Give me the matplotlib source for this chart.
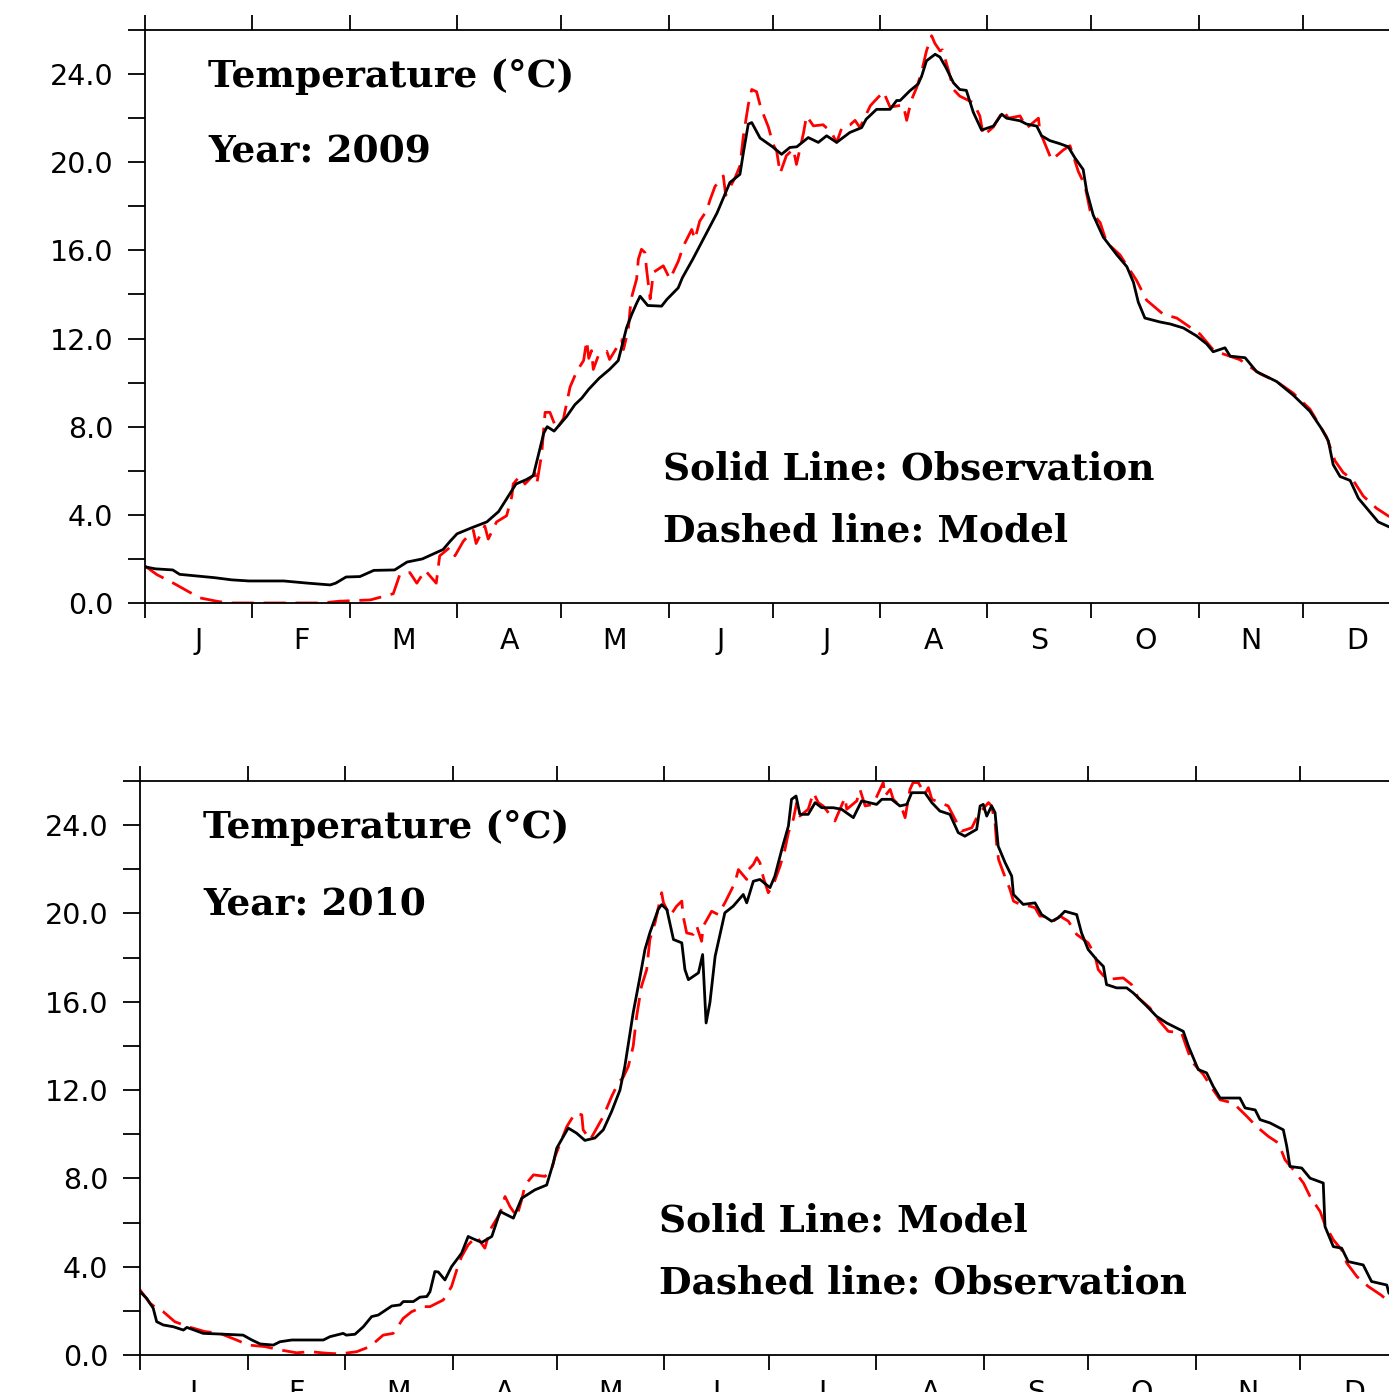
import matplotlib
matplotlib.use("Agg")
import matplotlib.pyplot as plt
import numpy as np

# ---------------- data (day of year, temperature degC) ----------------
month_labels = ["J", "F", "M", "A", "M", "J", "J", "A", "S", "O", "N", "D"]
month_starts = [0, 31, 59, 90, 120, 151, 181, 212, 243, 273, 304, 334, 365]

# 2009 observation (solid black)
obs09_day = [0, 3, 8, 10, 20, 25, 30, 40, 47, 53.4, 55, 58, 62, 66, 72, 75.6, 80, 86, 88, 90,
             94, 98.6, 102, 107, 110, 112, 115, 116, 118, 121.6, 124, 126, 128, 131, 134, 136.5,
             138.9, 140.4, 141.8, 142.8, 145, 149, 150.5, 153.8, 155, 158, 162, 165, 168.7,
             171.6, 172.6, 174, 175, 177.4, 181, 183.6, 186, 188, 191.3, 194.2, 196.6, 199.5,
             203.3, 206.7, 208, 211, 214.9, 216.8, 217.8, 220.6, 223, 224, 225.4, 227.9, 229.3,
             231, 233.2, 235, 236.9, 238.9, 241.3, 244.7, 247.1, 248.5, 252.4, 254.3, 257.2,
             258.6, 261, 263.9, 266.3, 268.2, 270.6, 271.6, 273.5, 276.4, 280.3, 283.2, 285.1,
             286.5, 288.4, 292.8, 295.7, 299.5, 303.3, 306.2, 308.1, 311.5, 313, 317.3, 320.6,
             326.4, 331.2, 336, 339.4, 341.3, 342.7, 344.7, 347.6, 350, 353.3, 355.7, 358.9, 365]
obs09_val = [1.64, 1.55, 1.5, 1.3, 1.15, 1.05, 1.0, 1.0, 0.9, 0.82, 0.9, 1.18, 1.2, 1.48, 1.5,
             1.86, 2.0, 2.43, 2.8, 3.14, 3.4, 3.68, 4.15, 5.4, 5.6, 5.78, 7.7, 8.0, 7.8, 8.46,
             9.0, 9.3, 9.7, 10.2, 10.6, 11.0, 12.49, 13.1, 13.6, 13.92, 13.5, 13.47, 13.77, 14.3,
             14.76, 15.6, 16.8, 17.7, 19.08, 19.45, 20.44, 21.73, 21.8, 21.1, 20.7, 20.36, 20.67,
             20.7, 21.12, 20.9, 21.2, 20.9, 21.35, 21.57, 21.95, 22.4, 22.4, 22.8, 22.8, 23.24,
             23.55, 23.9, 24.6, 24.9, 24.77, 24.3, 23.6, 23.3, 23.26, 22.27, 21.46, 21.64, 22.18,
             22.0, 21.88, 21.73, 21.64, 21.2, 20.98, 20.84, 20.7, 20.2, 19.67, 18.7, 17.6, 16.6,
             15.8, 15.26, 14.55, 13.65, 12.93, 12.75, 12.66, 12.48, 12.12, 11.76, 11.4, 11.58,
             11.2, 11.13, 10.5, 10.05, 9.43, 8.7, 7.9, 7.36, 6.28, 5.74, 5.56, 4.75, 4.13, 3.68,
             3.45, 3.2]

# 2009 model (dashed red)
mod09_day = [0, 3.4, 8.2, 12.5, 15.9, 20.7, 24, 51, 56, 65, 71.6, 73.5, 76.4, 78.4, 80.8, 84,
             85, 88, 89.4, 91.8, 94.7, 95.5, 98, 99, 101.4, 104.3, 105.8, 106.2, 108.2, 109.6,
             112.5, 113, 114.4, 115.4, 116.8, 118.7, 120.7, 122.6, 124.5, 126.5, 127.4, 128,
             128.8, 129.3, 130.7, 133.2, 134, 136.5, 137.5, 138, 139.4, 139.9, 140.4, 141.8,
             142.3, 143.2, 144.2, 144.7, 145.7, 146.2, 146.6, 149.5, 151.4, 153.8, 155.3, 157.7,
             158.6, 160, 162, 163, 164.4, 166.8, 167.5, 170.2, 171.6, 172.6, 173.5, 174, 175,
             176.4, 177.4, 178.3, 179.8, 181.2, 182.2, 183.2, 185, 187, 187.9, 189.9, 190.8,
             192.8, 195.6, 198, 199.5, 201, 203.4, 204.8, 206.2, 209.2, 210, 213, 214.9, 218.7,
             219.7, 221, 222.6, 224, 225.4, 226.9, 227.8, 229.3, 230, 231.7, 233.2, 235, 238.9,
             240.8, 241.8, 244.7, 247.6, 249, 252.4, 254.3, 257.7, 258.1, 261.5, 264.9, 266.8,
             269.2, 271.1, 272.6, 275.5, 277.4, 281.2, 286, 288.9, 293.7, 297.6, 304.3, 308.1,
             311, 315.8, 321.6, 326.4, 331.2, 336, 340.8, 343.2, 345.6, 348.5, 351.4, 355.2,
             358.6, 365]
mod09_val = [1.68, 1.29, 0.9, 0.52, 0.23, 0.08, 0.0, 0.0, 0.08, 0.14, 0.42, 1.29, 1.38, 0.9,
             1.48, 0.9, 2.14, 2.53, 2.14, 2.8, 3.3, 2.7, 3.5, 2.9, 3.68, 3.96, 4.83, 5.4, 5.78,
             5.4, 5.88, 5.4, 6.74, 8.65, 8.65, 7.89, 8.37, 9.8, 10.5, 11.0, 11.9, 11.1, 11.45,
             10.6, 11.2, 11.42, 11.05, 11.7, 11.95, 11.5, 12.4, 13.3, 13.9, 14.7, 15.6, 16.05,
             15.9, 15.1, 13.8, 14.4, 15.0, 15.3, 14.7, 15.5, 16.2, 16.95, 16.5, 17.33, 17.8,
             18.3, 18.9, 19.38, 18.5, 19.3, 19.83, 21.2, 22.1, 22.6, 23.3, 23.2, 22.6, 22.2,
             21.6, 20.8, 20.5, 19.5, 20.3, 20.6, 19.9, 21.3, 22.1, 21.65, 21.7, 21.35, 20.9,
             21.57, 21.7, 21.9, 21.57, 22.56, 22.7, 23.2, 22.5, 22.6, 21.9, 22.8, 23.4, 24.1,
             25.05, 25.74, 25.4, 25.05, 25.1, 24.2, 23.3, 23.0, 22.7, 22.1, 21.2, 21.6, 22.36,
             22.0, 22.1, 21.55, 22.0, 21.4, 20.1, 20.56, 20.75, 19.58, 18.95, 17.8, 17.26,
             16.35, 15.8, 14.64, 13.74, 13.1, 12.93, 12.2, 11.49, 11.3, 11.04, 10.4, 10.05,
             9.52, 8.8, 7.54, 6.46, 5.92, 5.56, 4.85, 4.3, 3.95, 3.5]

# 2010 model (solid black)
mod10_day = [0, 1.9, 3.8, 4.8, 6.7, 9.6, 12.5, 13.5, 18.2, 23, 29.7, 32.2, 34.6, 38.4, 40.3,
             43.7, 52.8, 54.7, 58.5, 59.4, 61.9, 64.3, 66.7, 68.6, 72.5, 74.9, 75.8, 78.7, 80.6,
             82.6, 83.5, 84.9, 85.9, 87.8, 89.7, 92.6, 94.5, 95.4, 98.4, 101.3, 103.7, 107.5,
             109.9, 113.7, 117.1, 119, 120, 121.9, 123.3, 125.7, 128.1, 131, 133.4, 135.8, 138.2,
             139.6, 142, 144, 145.4, 146.8, 149.2, 150.2, 151.7, 153.6, 156, 156.9, 157.9, 160.8,
             162, 163, 164.1, 165.6, 168.4, 170.8, 173.7, 174.7, 176.6, 178.5, 181.4, 182.8,
             184.8, 186.7, 187.6, 188.9, 190, 192.4, 194.4, 196.3, 199.6, 202, 205.4, 207.8,
             212.1, 213.6, 216.4, 218.8, 220.8, 222.2, 226, 228, 230.3, 233.2, 235.6, 237.5,
             240.9, 241.9, 242.8, 243.8, 245.2, 246.2, 247.1, 249.1, 251, 251.5, 254.3, 257.7,
             259.6, 262.5, 264.4, 266.3, 269.7, 271.1, 273, 275.5, 277.4, 278.3, 281.2, 284.1,
             286, 289.9, 292.7, 295.6, 300.4, 301.9, 304.7, 307.1, 309, 311, 316.7, 318.2,
             321.1, 322.5, 325.4, 329.2, 330.2, 331.1, 334.5, 336.9, 340.7, 341.2, 343.6, 346,
             347.9, 352.2, 354.6, 359, 359.6, 365]
mod10_val = [2.87, 2.57, 2.12, 1.51, 1.36, 1.28, 1.13, 1.25, 0.98, 0.95, 0.9, 0.68, 0.5, 0.45,
             0.6, 0.68, 0.68, 0.83, 0.98, 0.9, 0.94, 1.28, 1.74, 1.81, 2.22, 2.27, 2.42, 2.42,
             2.62, 2.65, 2.87, 3.78, 3.76, 3.4, 4.0, 4.61, 5.37, 5.3, 5.1, 5.37, 6.5, 6.2, 7.1,
             7.48, 7.7, 8.7, 9.37, 9.9, 10.28, 10.05, 9.72, 9.83, 10.2, 11.03, 12.0, 13.07, 15.5,
             17.16, 18.37, 19.12, 20.18, 20.4, 20.18, 18.82, 18.67, 17.46, 17.0, 17.31, 18.14,
             15.04, 15.96, 18.06, 20.03, 20.33, 20.86, 20.48, 21.46, 21.54, 21.17, 21.69, 22.9,
             23.96, 25.17, 25.32, 24.49, 24.49, 25.02, 24.79, 24.79, 24.72, 24.34, 25.1, 24.94,
             25.17, 25.17, 24.87, 24.94, 25.47, 25.47, 25.02, 24.64, 24.49, 23.66, 23.5, 23.81,
             24.87, 24.94, 24.41, 24.87, 24.57, 23.05, 22.3, 21.69, 20.86, 20.41, 20.48, 19.95,
             19.65, 19.8, 20.1, 19.95, 19.12, 18.37, 17.9, 17.6, 16.78, 16.63, 16.63, 16.4, 15.8,
             15.34, 15.04, 14.66, 13.98, 12.93, 12.78, 12.17, 11.64, 11.64, 11.19, 11.1, 10.66,
             10.51, 10.2, 9.45, 8.54, 8.47, 8.01, 7.79, 5.82, 4.91, 4.84, 4.23, 4.08, 3.33, 3.17,
             2.8, 2.5]

# 2010 observation (dashed red)
obs10_day = [0, 2.9, 5, 6.7, 10, 13.9, 18.7, 23, 27.8, 31.2, 36, 40.3, 45.1, 49, 53.8, 57.6,
             62.4, 66.2, 70, 72.9, 75.8, 78.2, 81.6, 83.5, 87.3, 89.7, 91.2, 92.6, 94.5, 96.9,
             99.3, 100.8, 103.7, 105.1, 106.5, 108.5, 109.9, 110.9, 113.3, 116.6, 118.5, 119.5,
             121.4, 122.9, 125.3, 127.2, 127.6, 129.6, 131, 133.4, 134.8, 135.8, 137.7, 139.2,
             140.6, 142, 143, 144.4, 145.9, 146.8, 148.3, 150.2, 150.7, 152.6, 154.5, 156, 156.4,
             157.4, 159.3, 160.3, 161.7, 162.2, 164.6, 166.5, 168.4, 169.4, 171.3, 172.3, 174.7,
             175.2, 176.6, 177.6, 178.5, 179.5, 180.9, 182.4, 184.3, 185.7, 186.7, 188.1, 189.1,
             190, 192.4, 193.9, 195.3, 196.7, 200.1, 203, 203.5, 206.4, 207.3, 208.8, 211.1, 214,
             214.5, 216, 216.9, 219.3, 220.3, 221.7, 222.6, 224.1, 226, 227, 228, 230.3, 232.7,
             235.2, 236.6, 239.5, 241.4, 244.3, 245.2, 246.2, 246.7, 247.2, 248.6, 250.5, 251.5,
             253.4, 256.2, 257.7, 259.1, 260.1, 263, 264.9, 267.3, 269.7, 273, 274.9, 275.9,
             278.3, 283.1, 285.5, 287.4, 290.8, 293.2, 296.1, 299.9, 301.4, 302.8, 306.2, 308.6,
             311, 314.8, 318.7, 321.5, 324.9, 327.8, 329.7, 332.1, 335, 336.9, 339.8, 341.2,
             343.6, 346, 347.5, 350.4, 353.7, 357.3, 359.6, 365]
obs10_val = [2.95, 2.34, 2.1, 1.96, 1.51, 1.28, 1.06, 0.98, 0.68, 0.45, 0.38, 0.23, 0.1, 0.15,
             0.08, 0.05, 0.15, 0.38, 0.9, 0.98, 1.66, 1.96, 2.19, 2.19, 2.49, 3.1, 3.85, 4.46,
             4.99, 5.37, 4.84, 5.67, 6.43, 7.18, 6.73, 6.27, 7.03, 7.71, 8.16, 8.09, 8.39, 8.99,
             9.75, 10.35, 10.96, 10.88, 10.2, 9.75, 10.13, 10.81, 11.34, 11.71, 12.32, 12.6,
             13.07, 13.98, 15.34, 16.7, 17.46, 18.82, 19.58, 20.94, 20.5, 19.88, 20.33, 20.56,
             19.88, 19.12, 19.05, 19.43, 18.74, 19.43, 20.1, 19.95, 20.48, 20.79, 21.39, 21.99,
             21.54, 21.99, 22.22, 22.53, 22.3, 21.62, 20.94, 21.32, 22.15, 22.9, 23.66, 24.26,
             25.02, 24.41, 24.72, 25.47, 25.02, 24.87, 24.19, 25.25, 24.72, 25.1, 25.62, 24.87,
             24.94, 25.93, 25.32, 25.62, 25.17, 24.79, 24.34, 25.62, 25.93, 25.93, 25.4, 25.7,
             25.17, 25.02, 24.87, 24.11, 23.73, 23.88, 24.49, 25.02, 24.87, 24.11, 23.05, 22.45,
             21.85, 21.09, 20.56, 20.41, 20.33, 20.26, 19.88, 19.88, 19.65, 19.88, 19.65, 19.05,
             18.67, 18.14, 17.46, 17.01, 17.08, 16.78, 16.18, 15.72, 15.19, 14.66, 14.59, 13.91,
             13.3, 12.7, 12.1, 11.56, 11.41, 10.81, 10.35, 9.9, 9.6, 8.84, 8.39, 7.79, 7.18, 6.5,
             5.9, 5.22, 4.76, 4.16, 3.55, 3.1, 2.72, 2.42, 2.2]

year_titles = ["Year: 2009", "Year: 2010"]
legend_texts = [("Solid Line: Observation", "Dashed line: Model"),
                ("Solid Line: Model", "Dashed line: Observation")]

# ---------------- figure ----------------
W, H = 1389, 1392
fig = plt.figure(figsize=(W / 100, H / 100), dpi=100)

tick_font = dict(family="DejaVu Sans", size=20.5)
text_font = dict(family="DejaVu Serif", size=27, weight="bold")


def make_axes(left_px, right_px, top_px, bottom_px):
    return fig.add_axes([left_px / W, 1 - bottom_px / H,
                         (right_px - left_px) / W, (bottom_px - top_px) / H])


def style(ax):
    ax.set_xlim(0, 365)
    ax.set_ylim(0, 26)
    for s in ["left", "bottom", "top"]:
        ax.spines[s].set_linewidth(1.3)
    ax.spines["right"].set_visible(False)
    ax.set_xticks(month_starts[:-1])
    ax.set_xticklabels([])
    mids = [(month_starts[i] + month_starts[i + 1]) / 2 for i in range(12)]
    ax.set_xticks(mids, minor=True)
    ax.set_xticklabels(month_labels, minor=True, **tick_font)
    ax.tick_params(axis="x", which="major", direction="out", length=11, width=1.3,
                   top=True, bottom=True, labelbottom=False)
    ax.tick_params(axis="x", which="minor", length=0, pad=17, top=False)
    ax.set_yticks(np.arange(0, 25, 4))
    ax.set_yticklabels([f"{v:.1f}" for v in np.arange(0, 25, 4)], **tick_font)
    ax.set_yticks(np.arange(2, 27, 4), minor=True)
    ax.tick_params(axis="y", which="both", direction="out", length=12, width=1.3,
                   left=True, right=False, pad=11)


def annotate(ax, idx):
    ax.text(0.050, 0.900, "Temperature (°C)", transform=ax.transAxes, ha="left",
            va="baseline", **text_font)
    ax.text(0.050, 0.768, year_titles[idx], transform=ax.transAxes, ha="left",
            va="baseline", **text_font)
    ax.text(0.4095, 0.2155, legend_texts[idx][0], transform=ax.transAxes, ha="left",
            va="baseline", **text_font)
    ax.text(0.4095, 0.107, legend_texts[idx][1], transform=ax.transAxes, ha="left",
            va="baseline", **text_font)


ax1 = make_axes(145, 145 + 365 * 3.467, 30, 603)
ax1.plot(mod09_day, mod09_val, color="red", lw=2.0, dashes=(8, 3.5), clip_on=True)
ax1.plot(obs09_day, obs09_val, color="black", lw=2.0)
style(ax1)
annotate(ax1, 0)

ax2 = make_axes(140, 140 + 365 * 3.473, 781, 1355)
ax2.plot(obs10_day, obs10_val, color="red", lw=2.0, dashes=(8, 3.5))
ax2.plot(mod10_day, mod10_val, color="black", lw=2.0)
style(ax2)
annotate(ax2, 1)

fig.savefig("out.png", dpi=100)
